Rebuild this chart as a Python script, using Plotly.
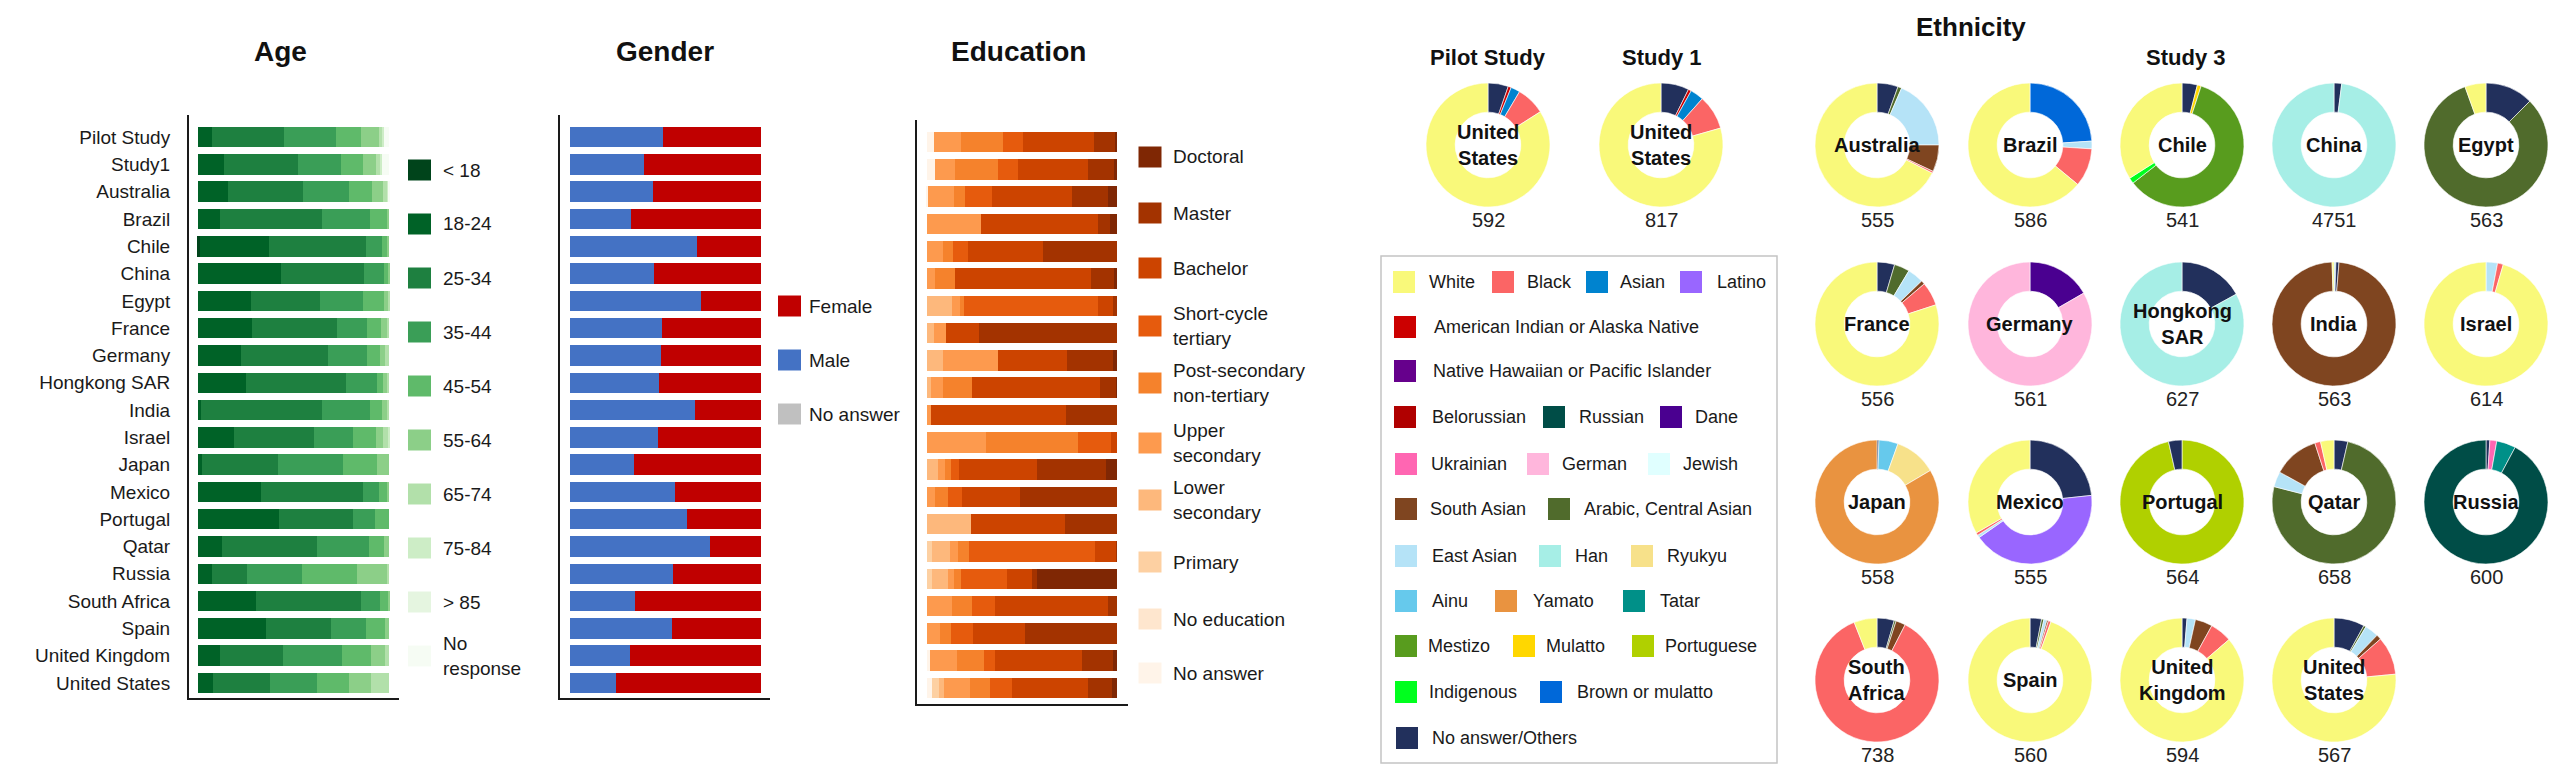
import plotly.graph_objects as go

W, H = 2566, 778
PAD = 8  # default page body margin of the html page
FW, FH = W - 2 * PAD, H - 2 * PAD
FONT = "Liberation Sans, Arial, sans-serif"

# ---------------- data ----------------
rows = ["Pilot Study", "Study1", "Australia", "Brazil", "Chile", "China", "Egypt", "France",
        "Germany", "Hongkong SAR", "India", "Israel", "Japan", "Mexico", "Portugal", "Qatar",
        "Russia", "South Africa", "Spain", "United Kingdom", "United States"]

age_categories = ["< 18", "18-24", "25-34", "35-44", "45-54", "55-64", "65-74", "75-84", "> 85", "No response"]
age_lt18 = [0, 0, 0, 0, 0.9, 0, 0, 0, 0, 0, 0, 0, 0, 0, 0, 0, 0, 0, 0, 0, 0]
age_18_24 = [7.3, 13.4, 15.7, 11.7, 36.5, 43.5, 27.8, 28.2, 22.3, 25.2, 1.7, 19.1, 2.1, 33.0, 42.6, 12.5, 7.3, 30.5, 35.4, 11.3, 7.9]
age_25_34 = [37.9, 38.8, 39.1, 53.2, 50.4, 43.5, 36.2, 44.3, 45.9, 52.5, 63.1, 41.7, 40.0, 53.6, 38.3, 49.6, 18.4, 55.0, 34.4, 33.2, 30.0]
age_35_44 = [27.0, 22.6, 24.3, 25.0, 8.7, 10.1, 22.1, 16.2, 20.0, 15.8, 25.0, 20.5, 33.6, 8.2, 11.8, 27.5, 28.5, 9.6, 18.0, 30.9, 24.4]
age_45_54 = [13.0, 11.8, 11.8, 8.9, 2.6, 2.4, 11.0, 7.3, 7.1, 3.5, 6.6, 11.7, 17.9, 4.0, 7.3, 7.8, 29.2, 4.4, 9.9, 15.0, 16.8]
age_55_64 = [9.6, 6.4, 6.1, 1.2, 0.9, 0.5, 2.4, 3.1, 2.4, 1.7, 3.0, 3.8, 6.4, 1.2, 0, 2.6, 15.3, 0.5, 2.3, 7.3, 11.7]
age_65_74 = [1.7, 2.3, 2.4, 0, 0, 0, 0.5, 0.9, 2.3, 1.3, 0.6, 3.1, 0, 0, 0, 0, 1.3, 0, 0, 2.3, 9.2]
age_75_84 = [0.8, 1.0, 0.5, 0, 0, 0, 0, 0, 0, 0, 0, 0.1, 0, 0, 0, 0, 0, 0, 0, 0, 0]
age_gt85 = [0, 0, 0, 0, 0, 0, 0, 0, 0, 0, 0, 0, 0, 0, 0, 0, 0, 0, 0, 0, 0]
age_no_response = [2.7, 3.7, 0.1, 0, 0, 0, 0, 0, 0, 0, 0, 0, 0, 0, 0, 0, 0, 0, 0, 0, 0]

gender_categories = ["Female", "Male", "No answer"]
gender_male = [48.9, 38.7, 43.6, 31.9, 66.7, 44.0, 68.8, 48.2, 47.5, 46.6, 65.4, 45.9, 33.3, 55.1, 61.3, 73.5, 54.1, 33.9, 53.2, 31.6, 23.9]
gender_female = [51.1, 61.3, 56.4, 68.1, 33.3, 56.0, 31.2, 51.8, 52.5, 53.4, 34.6, 54.1, 66.7, 44.9, 38.7, 26.5, 45.9, 66.1, 46.8, 68.4, 76.1]
gender_no_answer = [0, 0, 0, 0, 0, 0, 0, 0, 0, 0, 0, 0, 0, 0, 0, 0, 0, 0, 0, 0, 0]

edu_categories = ["No answer", "No education", "Primary", "Lower secondary", "Upper secondary",
                  "Post-secondary non-tertiary", "Short-cycle tertiary", "Bachelor", "Master", "Doctoral"]
edu_no_answer = [4.0, 4.4, 0.5, 0, 0, 0, 0, 0, 0, 0, 0, 0, 0, 0, 0, 0, 0, 0, 0, 1.7, 2.6]
edu_no_education = [0, 0, 0, 0, 0, 0, 0, 0, 0, 0, 0, 0, 0, 0, 0, 0, 0, 0, 0, 0, 0]
edu_primary = [0, 0, 0, 0, 0, 0, 0, 0, 0, 0, 0, 0, 0, 0, 0, 2.6, 2.6, 0, 0, 0, 3.7]
edu_lower_secondary = [0, 0, 0, 0, 0, 0, 13.1, 4.0, 8.7, 1.9, 0, 0, 6.1, 0, 23.2, 9.8, 8.4, 0, 0, 0, 2.6]
edu_upper_secondary = [14.0, 10.5, 13.8, 28.4, 8.7, 4.4, 4.5, 5.8, 28.8, 6.8, 2.3, 31.1, 3.5, 4.5, 0, 3.8, 3.5, 13.3, 7.0, 14.0, 14.0]
edu_post_secondary = [21.8, 22.3, 5.8, 0, 4.9, 10.5, 1.7, 0, 0, 15.0, 0, 48.3, 3.1, 6.8, 0, 6.1, 3.5, 10.3, 5.8, 14.5, 10.5]
edu_short_cycle = [10.8, 10.8, 14.3, 0, 7.9, 0, 70.7, 0, 0, 0, 0, 17.5, 4.4, 7.0, 0, 66.4, 24.4, 12.4, 11.7, 5.8, 11.2]
edu_bachelor = [37.2, 36.6, 42.1, 61.5, 39.8, 71.2, 7.7, 17.8, 36.3, 67.6, 70.7, 3.1, 41.0, 30.5, 49.2, 10.8, 13.1, 59.1, 27.2, 45.4, 40.3]
edu_master = [11.3, 13.6, 18.7, 6.6, 38.7, 12.2, 2.3, 72.4, 24.1, 8.2, 27.0, 0, 36.3, 51.2, 27.6, 0.5, 2.6, 4.9, 48.3, 16.6, 12.6]
edu_doctoral = [0.9, 1.8, 4.8, 3.5, 0, 1.7, 0, 0, 2.1, 0.5, 0, 0, 5.6, 0, 0, 0, 41.9, 0, 0, 2.0, 2.5]

# Ethnicity pies: slices listed clockwise from 12 o'clock
eth_pilot_cats = ["No answer/Others", "American Indian or Alaska Native", "Asian", "Black", "White"]
eth_pilot_vals = [5.3, 0.8, 2.4, 7.5, 84.0]
eth_study1_cats = ["No answer/Others", "American Indian or Alaska Native", "Asian", "Black", "White"]
eth_study1_vals = [7.3, 0.8, 3.5, 9.0, 79.4]
eth_australia_cats = ["No answer/Others", "Arabic, Central Asian", "East Asian", "South Asian", "Black", "White"]
eth_australia_vals = [5.5, 1.0, 18.5, 7.0, 0.5, 67.5]
eth_brazil_cats = ["Brown or mulatto", "East Asian", "Black", "White"]
eth_brazil_vals = [24.0, 2.0, 10.0, 64.0]
eth_chile_cats = ["No answer/Others", "Mulatto", "Mestizo", "Indigenous", "White"]
eth_chile_vals = [4.0, 1.0, 59.5, 1.5, 34.0]
eth_china_cats = ["No answer/Others", "Han"]
eth_china_vals = [2.0, 98.0]
eth_egypt_cats = ["No answer/Others", "Arabic, Central Asian", "White"]
eth_egypt_vals = [12.5, 82.0, 5.5]
eth_france_cats = ["No answer/Others", "Arabic, Central Asian", "East Asian", "South Asian", "Black", "White"]
eth_france_vals = [4.6, 4.0, 4.2, 1.0, 6.2, 80.0]
eth_germany_cats = ["Dane", "German"]
eth_germany_vals = [16.7, 83.3]
eth_hongkong_cats = ["No answer/Others", "Han"]
eth_hongkong_vals = [17.0, 83.0]
eth_india_cats = ["East Asian", "No answer/Others", "South Asian", "White"]
eth_india_vals = [0.5, 0.8, 98.2, 0.5]
eth_israel_cats = ["East Asian", "Black", "White"]
eth_israel_vals = [3.0, 1.5, 95.5]
eth_japan_cats = ["No answer/Others", "Ainu", "Ryukyu", "Yamato"]
eth_japan_vals = [0.5, 5.0, 11.0, 83.5]
eth_mexico_cats = ["No answer/Others", "Latino", "East Asian", "Black", "White"]
eth_mexico_vals = [23.3, 42.0, 0.7, 0.7, 33.3]
eth_portugal_cats = ["Portuguese", "No answer/Others"]
eth_portugal_vals = [96.5, 3.5]
eth_qatar_cats = ["No answer/Others", "Arabic, Central Asian", "East Asian", "South Asian", "Black", "White"]
eth_qatar_vals = [3.6, 75.4, 4.0, 12.0, 1.5, 3.5]
eth_russia_cats = ["No answer/Others", "Ukrainian", "Tatar", "Russian"]
eth_russia_vals = [1.0, 1.8, 5.0, 92.2]
eth_south_africa_cats = ["No answer/Others", "Arabic, Central Asian", "South Asian", "Black", "White"]
eth_south_africa_vals = [4.5, 0.5, 2.5, 86.5, 6.0]
eth_spain_cats = ["No answer/Others", "Arabic, Central Asian", "East Asian", "South Asian", "Black", "White"]
eth_spain_vals = [3.0, 0.6, 0.8, 0.4, 0.7, 94.5]
eth_uk_cats = ["No answer/Others", "East Asian", "South Asian", "Black", "White"]
eth_uk_vals = [1.3, 2.2, 4.5, 5.7, 86.3]
eth_us_cats = ["No answer/Others", "Arabic, Central Asian", "East Asian", "South Asian", "Black", "White"]
eth_us_vals = [8.0, 0.6, 3.6, 1.3, 10.0, 76.5]

pie_labels = ["United<br>States", "United<br>States", "Australia", "Brazil", "Chile", "China", "Egypt",
              "France", "Germany", "Hongkong<br>SAR", "India", "Israel", "Japan", "Mexico", "Portugal",
              "Qatar", "Russia", "South<br>Africa", "Spain", "United<br>Kingdom", "United<br>States"]
pie_n = ["592", "817", "555", "586", "541", "4751", "563", "556", "561", "627", "563", "614",
         "558", "555", "564", "658", "600", "738", "560", "594", "567"]

# ---------------- styles ----------------
age_colors = ["#00441b", "#006227", "#1e8040", "#3a9e57", "#5fba6a", "#8ccf88", "#b2e0aa", "#cdedc6", "#e5f5e0", "#f6fcf4"]
gender_colors = {"Female": "#c00000", "Male": "#4472c4", "No answer": "#c0c0c0"}
edu_colors = ["#fff4e9", "#fee6ce", "#fdd0a2", "#fdb87c", "#fd9a4e", "#f5822c", "#e65b0d", "#cc4400", "#a33300", "#7f2704"]

eth_colors = {
    "White": "#f9f97a", "Black": "#fb6565", "Asian": "#0083cf", "Latino": "#9966ff",
    "American Indian or Alaska Native": "#cc0000", "Native Hawaiian or Pacific Islander": "#66008c",
    "Belorussian": "#b00000", "Russian": "#004d47", "Dane": "#4a0090",
    "Ukrainian": "#ff66b2", "German": "#ffb6dc", "Jewish": "#e0ffff",
    "South Asian": "#7f4520", "Arabic, Central Asian": "#506b2c",
    "East Asian": "#b5e3f7", "Han": "#a6eee6", "Ryukyu": "#f7e18a",
    "Ainu": "#66c9ec", "Yamato": "#e99340", "Tatar": "#009088",
    "Mestizo": "#589c1e", "Mulatto": "#ffd700", "Portuguese": "#b0d000",
    "Indigenous": "#00ff1e", "Brown or mulatto": "#0068d9", "No answer/Others": "#22305c",
}


def fx(px):
    return (px - PAD) / FW


def fy(py):
    return 1 - (py - PAD) / FH


fig = go.Figure()

# ---------------- bars ----------------
age_series = [age_lt18, age_18_24, age_25_34, age_35_44, age_45_54, age_55_64, age_65_74,
              age_75_84, age_gt85, age_no_response]
for name, vals, col in zip(age_categories, age_series, age_colors):
    fig.add_trace(go.Bar(y=rows, x=vals, name=name, orientation="h", marker=dict(color=col, line_width=0),
                         xaxis="x", yaxis="y", showlegend=False))

for name, vals in zip(["Male", "Female", "No answer"], [gender_male, gender_female, gender_no_answer]):
    fig.add_trace(go.Bar(y=rows, x=vals, name=name, orientation="h",
                         marker=dict(color=gender_colors[name], line_width=0),
                         xaxis="x2", yaxis="y2", showlegend=False))

edu_series = [edu_no_answer, edu_no_education, edu_primary, edu_lower_secondary, edu_upper_secondary,
              edu_post_secondary, edu_short_cycle, edu_bachelor, edu_master, edu_doctoral]
for name, vals, col in zip(edu_categories, edu_series, edu_colors):
    fig.add_trace(go.Bar(y=rows, x=vals, name=name, orientation="h", marker=dict(color=col, line_width=0),
                         xaxis="x3", yaxis="y3", showlegend=False))

axis_line = dict(showline=True, linecolor="#1a1a1a", linewidth=2, showgrid=False, zeroline=False, ticks="")
fig.update_layout(
    xaxis=dict(domain=[fx(189), fx(399)], range=[-4.7, 105.2], showticklabels=False, anchor="y", **axis_line),
    yaxis=dict(domain=[fy(698), fy(115)], type="category", categoryorder="array", categoryarray=rows,
               range=[20.55, -0.81], anchor="x", tickfont=dict(size=19, color="#1a1a1a", family=FONT),
               ticklabelstandoff=13, **axis_line),
    xaxis2=dict(domain=[fx(560), fx(770)], range=[-5.2, 104.7], showticklabels=False, anchor="y2", **axis_line),
    yaxis2=dict(domain=[fy(698), fy(115)], type="category", categoryorder="array", categoryarray=rows,
                range=[20.55, -0.81], anchor="x2", showticklabels=False, **axis_line),
    xaxis3=dict(domain=[fx(917), fx(1128)], range=[-5.2, 105.8], showticklabels=False, anchor="y3", **axis_line),
    yaxis3=dict(domain=[fy(704), fy(120)], type="category", categoryorder="array", categoryarray=rows,
                range=[20.59, -0.81], anchor="x3", showticklabels=False, **axis_line),
)

# ---------------- pies ----------------
pie_cats = [eth_pilot_cats, eth_study1_cats, eth_australia_cats, eth_brazil_cats, eth_chile_cats,
            eth_china_cats, eth_egypt_cats, eth_france_cats, eth_germany_cats, eth_hongkong_cats,
            eth_india_cats, eth_israel_cats, eth_japan_cats, eth_mexico_cats, eth_portugal_cats,
            eth_qatar_cats, eth_russia_cats, eth_south_africa_cats, eth_spain_cats, eth_uk_cats, eth_us_cats]
pie_vals = [eth_pilot_vals, eth_study1_vals, eth_australia_vals, eth_brazil_vals, eth_chile_vals,
            eth_china_vals, eth_egypt_vals, eth_france_vals, eth_germany_vals, eth_hongkong_vals,
            eth_india_vals, eth_israel_vals, eth_japan_vals, eth_mexico_vals, eth_portugal_vals,
            eth_qatar_vals, eth_russia_vals, eth_south_africa_vals, eth_spain_vals, eth_uk_vals, eth_us_vals]

col_x = [1877, 2030, 2182, 2334, 2486]
row_y = [145, 324, 502, 680]
pie_centers = [(1488, 145), (1661, 145)] + [(col_x[i % 5], row_y[i // 5]) for i in range(19)]
R = 62

annotations = []


def add_text(x, y, text, size, xanchor="center", color="#111"):
    annotations.append(dict(xref="paper", yref="paper", x=fx(x), y=fy(y), text=text, showarrow=False,
                            xanchor=xanchor, yanchor="middle", align="left" if xanchor == "left" else "center",
                            font=dict(size=size, color=color, family=FONT)))


for cats, vals, (cx, cy), lab, n in zip(pie_cats, pie_vals, pie_centers, pie_labels, pie_n):
    fig.add_trace(go.Pie(labels=cats, values=vals, hole=0.53, sort=False, direction="clockwise", rotation=0,
                         marker=dict(colors=[eth_colors[c] for c in cats], line=dict(color="white", width=0.6)),
                         textinfo="none", hoverinfo="label+percent", showlegend=False,
                         domain=dict(x=[fx(cx - R), fx(cx + R)], y=[fy(cy + R), fy(cy - R)])))
    add_text(cx, cy, "<b>" + lab + "</b>", 20)
    add_text(cx, cy + 75, n, 20, color="#222")

# ---------------- titles ----------------
for txt, x, y, s in [("Age", 280, 52, 28), ("Gender", 665, 52, 28), ("Education", 1018, 52, 28),
                     ("Ethnicity", 1971, 27, 26), ("Pilot Study", 1488, 58, 22), ("Study 1", 1661, 58, 22),
                     ("Study 3", 2185, 58, 22)]:
    add_text(x, y, "<b>" + txt + "</b>", s)

shapes = []


def legend_item(color, sx, sy, tx, label, size=19, sw=23, sh=21):
    shapes.append(dict(type="rect", xref="paper", yref="paper", x0=fx(sx - sw / 2), x1=fx(sx + sw / 2),
                       y0=fy(sy + sh / 2), y1=fy(sy - sh / 2), fillcolor=color, line=dict(width=0)))
    add_text(tx, sy, label, size, xanchor="left", color="#1a1a1a")


# Age legend
age_leg_labels = ["< 18", "18-24", "25-34", "35-44", "45-54", "55-64", "65-74", "75-84", "> 85", "No<br>response"]
for i, (lab, col) in enumerate(zip(age_leg_labels, age_colors)):
    legend_item(col, 419.5, 170 + i * 54.0, 441, lab)

# Gender legend
for i, lab in enumerate(gender_categories):
    legend_item(gender_colors[lab], 789.5, 306 + i * 54.0, 807, lab)

# Education legend
edu_leg_labels = ["Doctoral", "Master", "Bachelor", "Short-cycle<br>tertiary", "Post-secondary<br>non-tertiary",
                  "Upper<br>secondary", "Lower<br>secondary", "Primary", "No education", "No answer"]
edu_leg_y = [157, 213, 268, 326, 383, 443, 500, 562, 619, 673]
for lab, col, ly in zip(edu_leg_labels, edu_colors[::-1], edu_leg_y):
    legend_item(col, 1150, ly, 1171, lab)

# Ethnicity legend box
shapes.append(dict(type="rect", xref="paper", yref="paper", x0=fx(1381), x1=fx(1777), y0=fy(763), y1=fy(256),
                   line=dict(color="#c4c4c4", width=1.5), fillcolor="rgba(0,0,0,0)"))
eth_leg_rows = [282, 327, 371, 417, 464, 509, 556, 601, 646, 692, 738]
eth_leg_items = [
    ("White", 0, 1404, 1427), ("Black", 0, 1503, 1525), ("Asian", 0, 1597, 1618), ("Latino", 0, 1691, 1715),
    ("American Indian or Alaska Native", 1, 1405, 1432),
    ("Native Hawaiian or Pacific Islander", 2, 1405, 1431),
    ("Belorussian", 3, 1405, 1430), ("Russian", 3, 1554, 1577), ("Dane", 3, 1671, 1693),
    ("Ukrainian", 4, 1406, 1429), ("German", 4, 1538, 1560), ("Jewish", 4, 1659, 1681),
    ("South Asian", 5, 1406, 1428), ("Arabic, Central Asian", 5, 1559, 1582),
    ("East Asian", 6, 1406, 1430), ("Han", 6, 1550, 1573), ("Ryukyu", 6, 1642, 1665),
    ("Ainu", 7, 1406, 1430), ("Yamato", 7, 1506, 1531), ("Tatar", 7, 1634, 1658),
    ("Mestizo", 8, 1406, 1426), ("Mulatto", 8, 1524, 1544), ("Portuguese", 8, 1643, 1663),
    ("Indigenous", 9, 1406, 1427), ("Brown or mulatto", 9, 1551, 1575),
    ("No answer/Others", 10, 1407, 1430),
]
for name, r, sx, tx in eth_leg_items:
    legend_item(eth_colors[name], sx, eth_leg_rows[r], tx, name, size=18, sw=22, sh=22)

fig.update_layout(
    width=FW, height=FH, margin=dict(l=0, r=0, t=0, b=0),
    paper_bgcolor="white", plot_bgcolor="white",
    barmode="stack", bargap=0.25, showlegend=False,
    font=dict(family=FONT, color="#1a1a1a"),
    annotations=annotations, shapes=shapes,
)

fig.write_html("out.html")
